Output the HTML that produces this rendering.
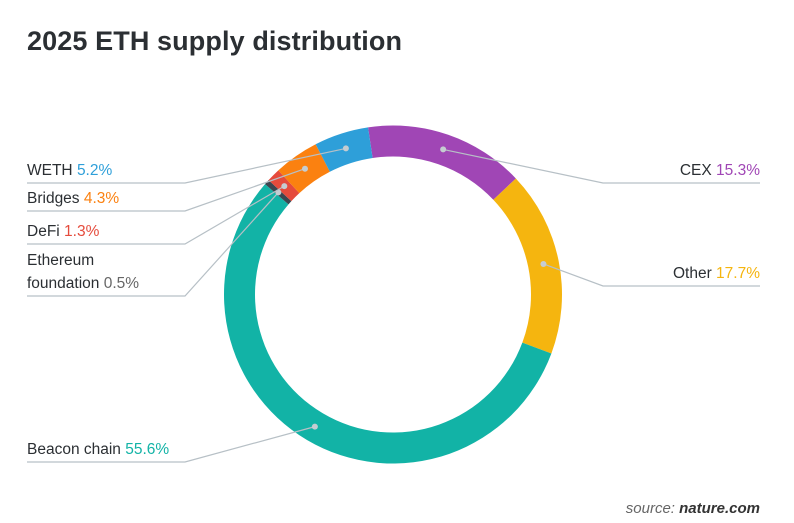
<!DOCTYPE html>
<html><head><meta charset="utf-8"><style>
body{margin:0;background:#fff;font-family:"Liberation Sans",sans-serif;}
svg text{font-family:"Liberation Sans",sans-serif;}
</style></head><body>
<svg width="794" height="518" viewBox="0 0 794 518">
<text x="27" y="50" font-size="27" font-weight="bold" fill="#2b2f33" textLength="375">2025 ETH supply distribution</text>
<g id="slices"></g><g id="labels"></g>
<text x="760" y="513" text-anchor="end" font-size="15" font-style="italic" fill="#666">source: <tspan font-weight="bold" fill="#333">nature.com</tspan></text>
</svg>
<script>
const categories=["CEX","Other","Beacon chain","Ethereum foundation","DeFi","Bridges","WETH"];
const values=[15.3,17.7,55.6,0.5,1.3,4.3,5.2];
const colors=["#a046b5","#f5b50f","#12b3a6","#3c4650","#e54b3c","#fb8110","#2e9fd9"];
const labelText=["15.3%","17.7%","55.6%","0.5%","1.3%","4.3%","5.2%"];
const cx=393,cy=294.5,R=169,r=138,start=-8.5;
const NS="http://www.w3.org/2000/svg";
const total=values.reduce((a,b)=>a+b,0);
function pt(a,rad){const t=(a-90)*Math.PI/180;return [cx+rad*Math.cos(t),cy+rad*Math.sin(t)];}
const sg=document.getElementById('slices'),lg=document.getElementById('labels');
let a=start;
const layout={"CEX":["r",183,["CEX"]],"Other":["r",286,["Other"]],"Beacon chain":["l",462,["Beacon chain"]],
"Ethereum foundation":["l",296,["Ethereum","foundation"]],"DeFi":["l",244,["DeFi"]],"Bridges":["l",211,["Bridges"]],"WETH":["l",183,["WETH"]]};
values.forEach((v,i)=>{
 const a0=a,a1=a+v/total*360;a=a1;
 const p1=pt(a0,R),p2=pt(a1,R),p3=pt(a1,r),p4=pt(a0,r),lf=(a1-a0)>180?1:0;
 const path=document.createElementNS(NS,'path');
 path.setAttribute('d',`M${p1}A${R},${R} 0 ${lf} 1 ${p2}L${p3}A${r},${r} 0 ${lf} 0 ${p4}Z`);
 path.setAttribute('fill',colors[i]);
 
 
 sg.appendChild(path);
 const mid=(a0+a1)/2,d=pt(mid,(R+r)/2);
 const L=layout[categories[i]],side=L[0],uy=L[1];
 const x0=side==="l"?27:760,xe=side==="l"?185:603;
 const pl=document.createElementNS(NS,'polyline');
 pl.setAttribute('points',`${d} ${xe},${uy} ${x0},${uy}`);
 pl.setAttribute('fill','none');pl.setAttribute('stroke','#b7c0c6');pl.setAttribute('stroke-width','1.2');
 
 
 lg.appendChild(pl);
 const c=document.createElementNS(NS,'circle');
 c.setAttribute('cx',d[0]);c.setAttribute('cy',d[1]);c.setAttribute('r',3);c.setAttribute('fill','#c5ccd1');
 
 
 lg.appendChild(c);
 const lines=L[2];
 lines.forEach((ln,k)=>{
  const t=document.createElementNS(NS,'text');
  t.setAttribute('x',x0);t.setAttribute('y',uy-8-(lines.length-1-k)*23);
  t.setAttribute('font-size','15.5');t.setAttribute('fill','#2b2f33');
  if(side==="r")t.setAttribute('text-anchor','end');
  t.textContent=ln+(k===lines.length-1?' ':'');
  if(k===lines.length-1){const s=document.createElementNS(NS,'tspan');s.setAttribute('fill',i===3?'#666':colors[i]);s.textContent=labelText[i];t.appendChild(s);}
  
  
  lg.appendChild(t);
 });
});
</script>
</body></html>
